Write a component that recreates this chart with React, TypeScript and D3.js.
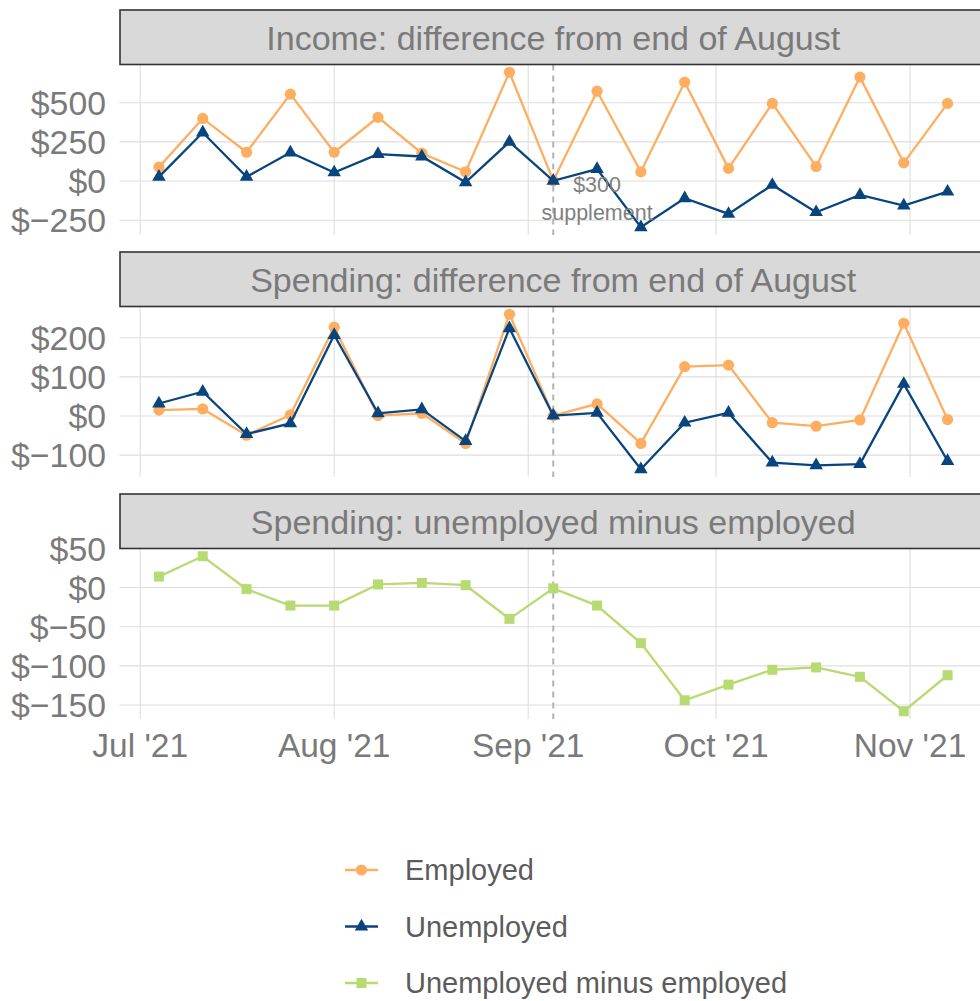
import React from 'react'
import * as d3 from 'd3'

// weekly observation dates
const dates = ['2021-07-04', '2021-07-11', '2021-07-18', '2021-07-25', '2021-08-01', '2021-08-08',
  '2021-08-15', '2021-08-22', '2021-08-29', '2021-09-05', '2021-09-12', '2021-09-19', '2021-09-26',
  '2021-10-03', '2021-10-10', '2021-10-17', '2021-10-24', '2021-10-31', '2021-11-07']

const incomeEmployed = [89, 400, 184, 555, 184, 407, 178, 59, 695, 2, 574, 59, 632, 81, 496, 93, 664, 116, 496]
const incomeUnemployed = [27, 310, 27, 182, 55, 172, 157, -8, 250, 2, 76, -295, -110, -210, -25, -199, -89, -157, -68]
const spendEmployed = [15, 18, -49, 3, 227, 1, 7, -70, 260, 1, 31, -70, 126, 130, -17, -26, -10, 237, -9]
const spendUnemployed = [32, 62, -46, -19, 207, 7, 17, -64, 224, 1, 8, -136, -17, 8, -119, -126, -123, 82, -115]
const spendDiff = [14, 40, -2, -23, -23, 4, 6, 3, -40, -1, -23, -71, -144, -124, -105, -102, -114, -158, -112]

const monthTicks = ['2021-07-01', '2021-08-01', '2021-09-01', '2021-10-01', '2021-11-01']
const monthLabels = ["Jul '21", "Aug '21", "Sep '21", "Oct '21", "Nov '21"]
const supplementDate = '2021-09-05'
const supplementLabel = ['$300', 'supplement']

const panelTitles = ['Income: difference from end of August', 'Spending: difference from end of August', 'Spending: unemployed minus employed']
const panelTicks = [[-250, 0, 250, 500], [-100, 0, 100, 200], [-150, -100, -50, 0, 50]]

const seriesNames = ['Employed', 'Unemployed', 'Unemployed minus employed']
const seriesColors = ['#fdae61', '#08457e', '#b8da72']

const FONT = '"Liberation Sans", Arial, Helvetica, sans-serif'
const W = 980
const H = 1001

const parse = d3.utcParse('%Y-%m-%d')
const fmtMoney = (v: number) => (v < 0 ? '$\u2212' + Math.abs(v) : '$' + v)

function Marker ({kind, x, y, color}: {kind: number, x: number, y: number, color: string}) {
  if (kind === 0) return <circle cx={x} cy={y} r={5.6} fill={color} />
  if (kind === 1) {
    const s = 13.5
    const r = s / Math.sqrt(3)
    return <path d={`M${x},${y - r}L${x + s / 2},${y + r / 2}L${x - s / 2},${y + r / 2}Z`} fill={color} />
  }
  return <rect x={x - 5} y={y - 5} width={10} height={10} fill={color} />
}

export default function App () {
  const dts = dates.map(parse) as Date[]
  const ext = d3.extent(dts) as [Date, Date]
  const pad = (ext[1].getTime() - ext[0].getTime()) * 0.05
  const x = d3.scaleUtc()
    .domain([new Date(ext[0].getTime() - pad), new Date(ext[1].getTime() + pad)])
    .range([119.5, 987])

  const panels = [
    {series: [{v: incomeEmployed, k: 0}, {v: incomeUnemployed, k: 1}]},
    {series: [{v: spendEmployed, k: 0}, {v: spendUnemployed, k: 1}]},
    {series: [{v: spendDiff, k: 2}]}
  ]
  const stripTops = [10, 252, 494]
  const stripH = 54.5
  const panelH = 170.5

  const xSup = x(parse(supplementDate) as Date)

  return (
    <svg width={W} height={H} style={{position: 'absolute', left: 0, top: 0, background: '#fff'}} fontFamily={FONT}>
      {panels.map((p, i) => {
        const top = stripTops[i] + stripH
        const bottom = top + panelH
        const all = p.series.flatMap(s => s.v)
        const [lo, hi] = d3.extent(all) as [number, number]
        const yp = (hi - lo) * 0.05
        const y = d3.scaleLinear().domain([lo - yp, hi + yp]).range([bottom, top])
        const line = d3.line<number>()
          .x((d, j) => x(dts[j]))
          .y(d => y(d))
        return (
          <g key={i}>
            {/* grid */}
            {panelTicks[i].map(t => (
              <line key={'h' + t} x1={119.5} x2={W} y1={y(t)} y2={y(t)} stroke='#dedede' strokeWidth={1.1} />
            ))}
            {monthTicks.map(m => (
              <line key={'v' + m} x1={x(parse(m) as Date)} x2={x(parse(m) as Date)} y1={top} y2={bottom} stroke='#dedede' strokeWidth={1.1} />
            ))}
            <line x1={xSup} x2={xSup} y1={top} y2={bottom} stroke='#b3b3b3' strokeWidth={2} strokeDasharray='6,5' />
            {/* y labels */}
            {panelTicks[i].map(t => (
              <text key={'l' + t} x={106} y={y(t)} dy='0.36em' textAnchor='end' fontSize={33.8} fill='#7a7a7a'>{fmtMoney(t)}</text>
            ))}
            {/* series */}
            {p.series.map(s => (
              <g key={s.k}>
                <path d={line(s.v) || ''} fill='none' stroke={seriesColors[s.k]} strokeWidth={2.3} />
                {s.v.map((v, j) => <Marker key={j} kind={s.k} x={x(dts[j])} y={y(v)} color={seriesColors[s.k]} />)}
              </g>
            ))}
            {/* strip */}
            <rect x={120} y={stripTops[i]} width={W} height={stripH} fill='#d9d9d9' stroke='#333333' strokeWidth={1.6} />
            <text x={(119.5 + 987) / 2} y={stripTops[i] + 40} textAnchor='middle' fontSize={34} fill='#7a7a7a'>{panelTitles[i]}</text>
            {i === 0 && (
              <text fontSize={21.5} fill='#7f7f7f' textAnchor='middle'>
                <tspan x={x(dts[10])} y={192}>{supplementLabel[0]}</tspan>
                <tspan x={x(dts[10])} y={220}>{supplementLabel[1]}</tspan>
              </text>
            )}
          </g>
        )
      })}
      {/* x axis labels */}
      {monthTicks.map((m, i) => (
        <text key={m} x={x(parse(m) as Date)} y={757} textAnchor='middle' fontSize={33.5} fill='#7a7a7a'>{monthLabels[i]}</text>
      ))}
      {/* legend */}
      {seriesNames.map((n, i) => {
        const ly = 870 + i * 56.5
        return (
          <g key={n}>
            <line x1={345} x2={378} y1={ly} y2={ly} stroke={seriesColors[i]} strokeWidth={2.3} />
            <Marker kind={i} x={361.5} y={ly} color={seriesColors[i]} />
            <text x={405} y={ly} dy='0.36em' fontSize={29} fill='#5c5c5c'>{n}</text>
          </g>
        )
      })}
    </svg>
  )
}
